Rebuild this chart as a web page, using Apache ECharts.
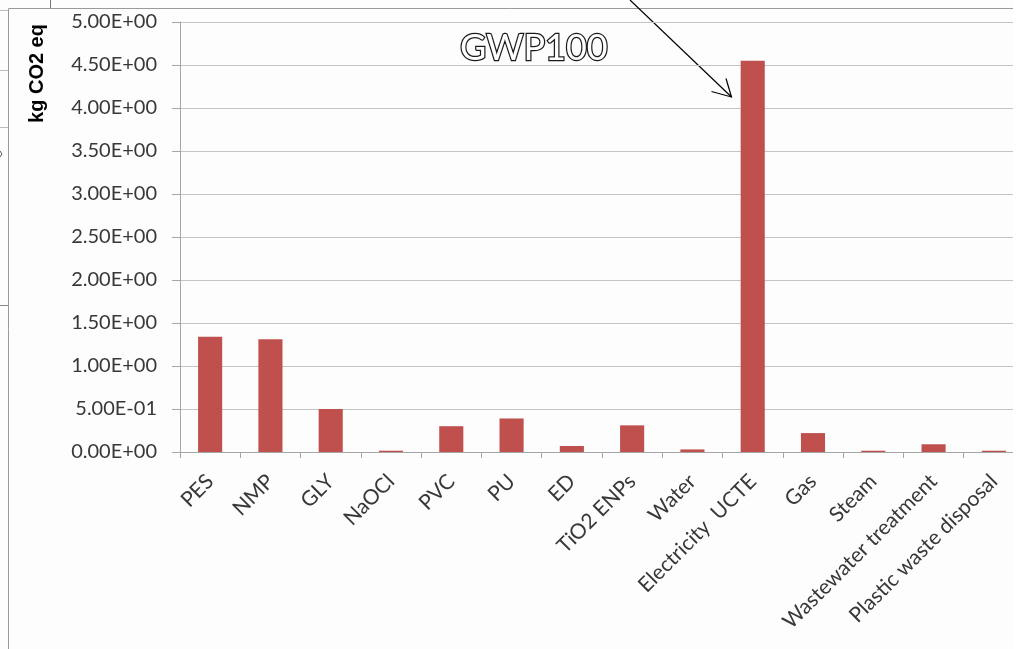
<!DOCTYPE html>
<html>
<head>
<meta charset="utf-8">
<script src="https://cdn.jsdelivr.net/npm/echarts@6/dist/echarts.min.js"></script>
<style>
  html, body { margin: 0; padding: 0; background: #ffffff; overflow: hidden; }
  #wrap { width: 1013px; height: 649px; overflow: hidden; }
  #chart { width: 1040px; height: 649px; }
</style>
</head>
<body>
<div id="wrap"><div id="chart"></div></div>
<script>
// GWP100 contributions per input / process
const categories = ['PES', 'NMP', 'GLY', 'NaOCl', 'PVC', 'PU', 'ED', 'TiO2 ENPs', 'Water',
  'Electricity  UCTE', 'Gas', 'Steam', 'Wastewater treatment', 'Plastic waste disposal'];
const gwpValues = [1.34, 1.31, 0.50, 0.015, 0.30, 0.39, 0.07, 0.31, 0.03, 4.55, 0.22, 0.015, 0.09, 0.015];
const yTicks = { min: 0, max: 5, interval: 0.5 };
const titleText = 'GWP100';
const yAxisTitle = 'kg CO2 eq';

function sci(v) {
  // Excel-style scientific notation: 5.00E-01
  if (v === 0) return '0.00E+00';
  let e = Math.floor(Math.log10(Math.abs(v)) + 1e-9);
  let m = v / Math.pow(10, e);
  const sign = e < 0 ? '-' : '+';
  const ae = Math.abs(e);
  return m.toFixed(2) + 'E' + sign + (ae < 10 ? '0' + ae : '' + ae);
}

const chart = echarts.init(document.getElementById('chart'), null, { renderer: 'canvas' });
const grey = '#a6a6a6';
const labelColor = '#383838';

chart.setOption({
  backgroundColor: '#fdfdfd',
  animation: false,
  title: {
    text: titleText,
    left: 455,
    top: 25,
    textStyle: {
      fontFamily: 'Lato',
      fontSize: 36,
      fontWeight: 'normal',
      color: '#ffffff',
      textBorderColor: '#1a1a1a',
      textBorderWidth: 2.5
    }
  },
  grid: { left: 180, top: 22, width: 844, height: 430, containLabel: false, outerBoundsMode: 'none' },
  xAxis: {
    type: 'category',
    data: categories,
    axisLine: { lineStyle: { color: grey, width: 1 } },
    axisTick: { show: true, length: 6, lineStyle: { color: grey } },
    axisLabel: {
      rotate: 45,
      margin: 26,
      interval: 0,
      fontFamily: 'Lato',
      fontSize: 21,
      color: labelColor
    }
  },
  yAxis: {
    type: 'value',
    min: yTicks.min,
    max: yTicks.max,
    interval: yTicks.interval,
    axisLine: { show: true, lineStyle: { color: grey, width: 1 } },
    axisTick: { show: true, length: 8, lineStyle: { color: grey } },
    splitLine: { lineStyle: { color: '#c4c4c4', width: 1 } },
    axisLabel: {
      margin: 23,
      fontFamily: 'Lato',
      fontSize: 20,
      color: labelColor,
      formatter: sci
    }
  },
  series: [{
    type: 'bar',
    data: gwpValues,
    barWidth: '40%',
    itemStyle: { color: '#c0504d' }
  }],
  graphic: [
    // white margin past the right edge of the panel
    { type: 'rect', shape: { x: 1013, y: 0, width: 40, height: 649 }, style: { fill: '#ffffff' }, z: 100 },
    // axis title
    {
      type: 'text', x: 37, y: 73.5, rotation: Math.PI / 2,
      style: {
        text: yAxisTitle, fontFamily: 'Liberation Sans', fontWeight: 'bold', fontSize: 20,
        fill: '#000', align: 'center', verticalAlign: 'middle'
      }
    },
    // frame of the chart area
    { type: 'line', shape: { x1: 8.5, y1: 8.5, x2: 1013, y2: 8.5 }, style: { stroke: '#9a9a9a', lineWidth: 1 } },
    { type: 'line', shape: { x1: 8.5, y1: 8.5, x2: 8.5, y2: 649 }, style: { stroke: '#9a9a9a', lineWidth: 1 } },
    // pieces of the neighbouring panel on the left
    { type: 'line', shape: { x1: 50.5, y1: 0, x2: 50.5, y2: 8 }, style: { stroke: '#777', lineWidth: 1 } },
    { type: 'line', shape: { x1: 0, y1: 10.5, x2: 8, y2: 10.5 }, style: { stroke: '#bbb', lineWidth: 1 } },
    { type: 'line', shape: { x1: 0, y1: 70.5, x2: 8, y2: 70.5 }, style: { stroke: '#bbb', lineWidth: 1 } },
    { type: 'line', shape: { x1: 0, y1: 127.5, x2: 8, y2: 127.5 }, style: { stroke: '#bbb', lineWidth: 1 } },
    { type: 'line', shape: { x1: 0, y1: 305.5, x2: 8, y2: 305.5 }, style: { stroke: '#888', lineWidth: 1 } },
    { type: 'polyline', shape: { points: [[0, 151], [2, 154], [0, 157]] }, style: { stroke: '#555', lineWidth: 1, fill: null } },
    // pointer arrow towards the largest contribution
    { type: 'line', shape: { x1: 630, y1: 0, x2: 731.5, y2: 97 }, style: { stroke: '#000', lineWidth: 1.2 } },
    { type: 'polyline', shape: { points: [[711.5, 91.5], [731.5, 97], [726, 78.5]] }, style: { stroke: '#000', lineWidth: 1.2, fill: null } }
  ]
});
</script>
</body>
</html>
